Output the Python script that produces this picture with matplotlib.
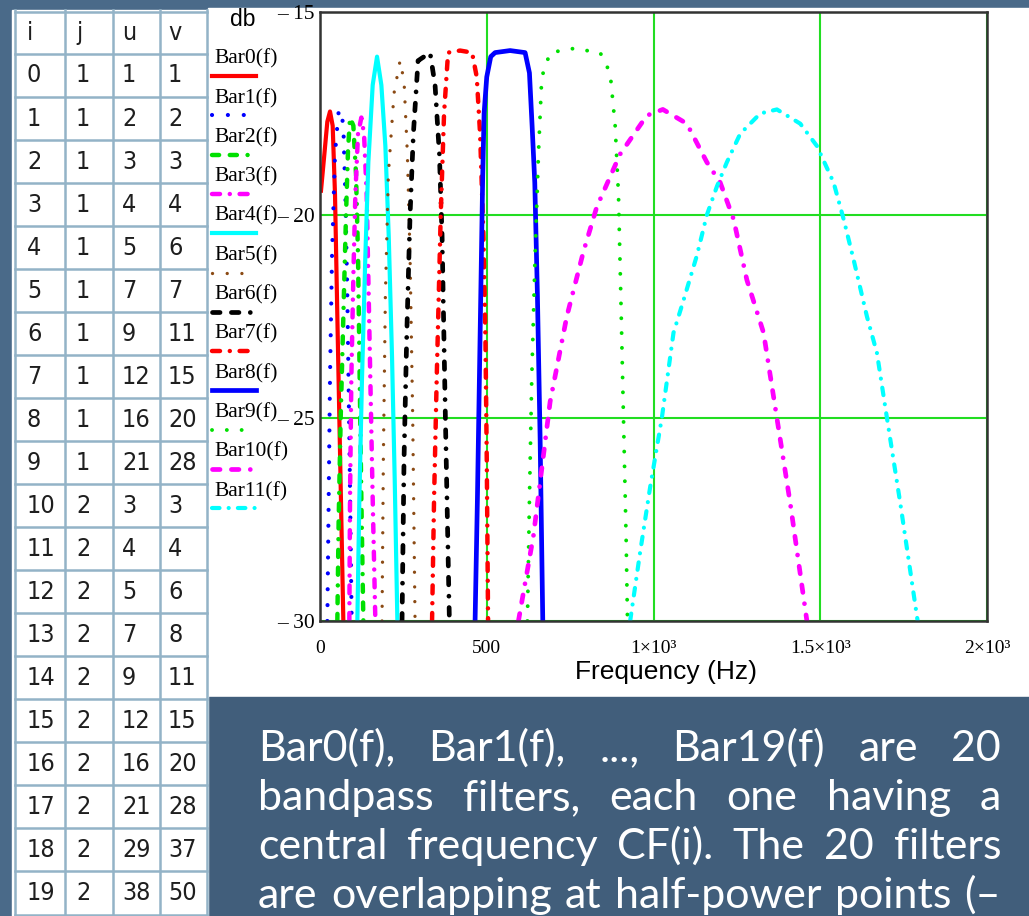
import matplotlib
matplotlib.use('Agg')
import matplotlib.pyplot as plt
from matplotlib import font_manager
from matplotlib.patches import Rectangle

# table on the left
tab_head = ['i', 'j', 'u', 'v']
tab_i = list(range(20))
tab_j = [1] * 10 + [2] * 10
tab_u = [1, 2, 3, 4, 5, 7, 9, 12, 16, 21, 3, 4, 5, 7, 9, 12, 16, 21, 29, 38]
tab_v = [1, 2, 3, 4, 6, 7, 11, 15, 20, 28, 3, 4, 6, 8, 11, 15, 20, 28, 37, 50]

# filter responses (Hz, db)
bar0_f = [3, 12, 22, 30, 38, 45, 52, 58, 64, 70]
bar0_db = [-19.4, -18.6, -17.7, -17.45, -17.8, -19.5, -22.5, -25, -27.5, -30]
bar1_f = [22, 26, 30, 36, 45, 55, 62, 70, 76, 82, 88, 95]
bar1_db = [-30, -27, -24, -21, -18.5, -17.5, -17.4, -17.8, -19.5, -22, -25.5, -30]
bar2_f = [52, 56, 62, 70, 78, 84, 90, 100, 108, 114, 119, 124, 130]
bar2_db = [-30, -27.5, -25, -22.5, -20, -18.4, -17.6, -17.8, -19, -21, -24, -27, -30]
bar3_f = [88, 90, 94, 100, 106, 114, 124, 132, 140, 146, 152, 158, 166]
bar3_db = [-30, -27, -24, -21.5, -19.5, -18, -17.6, -18, -19.5, -22, -24.5, -27, -30]
bar4_f = [112, 118, 126, 136, 145, 158, 171, 184, 196, 206, 216, 224, 232]
bar4_db = [-30, -27, -24, -21, -18.7, -16.8, -16.1, -16.8, -18.3, -20.5, -23.5, -26.5, -30]
bar5_f = [186, 190, 196, 205, 222, 240, 252, 262, 270, 278, 285]
bar5_db = [-30, -26, -22, -19, -17, -16.2, -16.7, -18.5, -21, -25, -30]
bar6_f = [246, 252, 260, 270, 280, 294, 312, 330, 345, 358, 366, 376, 388]
bar6_db = [-30, -26, -23, -20, -18, -16.2, -16.1, -16.0, -16.8, -18.5, -20.5, -25, -30]
bar7_f = [336, 342, 350, 362, 372, 384, 420, 456, 470, 480, 490, 496, 500, 504]
bar7_db = [-30, -27, -24, -20, -17.5, -16, -15.95, -16, -16.6, -18, -20.5, -23, -26, -30]
bar8_f = [465, 472, 478, 484, 488, 492, 500, 512, 525, 570, 615, 628, 636, 644, 652, 660, 668]
bar8_db = [-30, -27, -24, -21, -19, -17.5, -16.6, -16.1, -16, -15.95, -16, -16.5, -17.8, -19.2, -22, -25.5, -30]
bar9_f = [622, 628, 635, 645, 655, 665, 690, 760, 840, 870, 885, 895, 902, 910, 918, 922]
bar9_db = [-30, -27, -24, -21, -18.5, -16.6, -16.0, -15.9, -16, -16.5, -17.8, -19.5, -22, -25, -28, -30]
bar10_f = [595, 640, 690, 740, 790, 830, 900, 980, 1028, 1100, 1160, 1200, 1240, 1280, 1330, 1370, 1410, 1460]
bar10_db = [-30, -27.9, -24.6, -22.5, -20.9, -19.8, -18.5, -17.55, -17.4, -17.75, -18.7, -19.2, -20.1, -21.6,
            -22.9, -25, -27.1, -30]
bar11_f = [930, 960, 990, 1025, 1060, 1090, 1130, 1160, 1190, 1220, 1260, 1320, 1370, 1440, 1490, 1540, 1570,
           1600, 1640, 1670, 1700, 1740, 1792]
bar11_db = [-30, -28.3, -26.7, -25, -22.9, -22.1, -21, -20, -19.3, -18.7, -18, -17.5, -17.4, -17.75, -18.3,
            -19.2, -20.1, -21.1, -22.5, -23.4, -25, -27.1, -30]

curves = [(bar0_f, bar0_db), (bar1_f, bar1_db), (bar2_f, bar2_db), (bar3_f, bar3_db),
          (bar4_f, bar4_db), (bar5_f, bar5_db), (bar6_f, bar6_db), (bar7_f, bar7_db),
          (bar8_f, bar8_db), (bar9_f, bar9_db), (bar10_f, bar10_db), (bar11_f, bar11_db)]
names = ['Bar%d(f)' % k for k in range(12)]

x_ticks = [0, 500, 1000, 1500, 2000]
x_labels = ['0', '500', '1×10³', '1.5×10³', '2×10³']
y_ticks = [-30, -25, -20, -15]
y_labels = ['– 30', '– 25', '– 20', '– 15']

text_lines = ['Bar0(f), Bar1(f), ..., Bar19(f) are 20',
              'bandpass filters, each one having a',
              'central frequency CF(i). The 20 filters',
              'are overlapping at half-power points (–']

# line styles (Mathcad like)
green = '#00e000'
brown = '#8b4a14'
dot = (0.01, 3.8)
dd = (1.6, 2.4, 1.6, 2.4, 0.01, 2.4)
dsd = (1.8, 2.2, 0.01, 2.2)
styles = [('red', 3.0, None), ('blue', 3.0, dot), (green, 3.2, dd), ('magenta', 3.2, dsd),
          ('cyan', 3.0, None), (brown, 2.4, (0.01, 4.4)), ('black', 3.4, dd), ('red', 3.2, dsd),
          ('blue', 3.4, None), (green, 2.8, dot), ('magenta', 3.4, dd), ('cyan', 3.0, dsd)]

fonts = font_manager.fontManager.ttflist
avail = {f.name for f in fonts}
cond = [f for f in fonts if 'condensed' in str(f.stretch) or 'Narrow' in f.name or 'Condensed' in f.name]
if any(f.name == 'Liberation Sans Narrow' for f in cond):
    tab_font = dict(family='Liberation Sans Narrow', fontsize=19)
elif any(f.name == 'DejaVu Sans' for f in cond):
    tab_font = dict(family='DejaVu Sans', fontstretch='condensed', fontsize=18)
else:
    tab_font = dict(family='Liberation Sans', fontsize=16)
serif = 'Liberation Serif'
sans = 'Liberation Sans'
body = 'Lato' if 'Lato' in avail else 'DejaVu Sans'

W, H = 1029, 916
fig = plt.figure(figsize=(W / 100, H / 100), dpi=100)
fig.patch.set_facecolor('#4a6a89')

# pixel-space background layer
bg = fig.add_axes([0, 0, 1, 1], zorder=0)
bg.set_xlim(0, W)
bg.set_ylim(H, 0)
bg.axis('off')

bg.add_patch(Rectangle((208, 8), W - 208, 689, color='white'))
bg.add_patch(Rectangle((208, 697), W - 208, H - 697, color='#415e7b'))

# table
bg.add_patch(Rectangle((12, 10), 196, H - 10, color='white'))
col_x = [15, 65, 113, 160, 207]
row_y = [12, 53.5] + [53.5 + 43.05 * (k + 1) for k in range(20)]
for x in col_x:
    bg.plot([x, x], [10, H], color='#93b3c7', lw=1.8)
for y in row_y:
    bg.plot([15, 207], [y, y], color='#93b3c7', lw=1.8)
text_x = [27, 76, 122, 168]
for c, h in enumerate(tab_head):
    bg.text(text_x[c], 33, h, color='#1e1e1e', ha='left', va='center', **tab_font)
for r in range(20):
    yc = 53.5 + 43.05 * r + 22
    for c, val in enumerate([tab_i[r], tab_j[r], tab_u[r], tab_v[r]]):
        bg.text(text_x[c], yc, str(val), color='#1e1e1e', ha='left', va='center', **tab_font)

# legend and y label (Mathcad style, text above line sample)
bg.text(243, 19, 'db', fontsize=16.5, family=sans, ha='center', va='center')
for k, name in enumerate(names):
    yt = 59 + 39.3 * k
    bg.text(214, yt, name, fontsize=15.5, family=serif, ha='left', va='center')
    col, lw, ds = styles[k]
    ln, = bg.plot([212, 256], [yt + 17, yt + 17], color=col, lw=lw)
    if ds is not None:
        ln.set_dashes(ds)
        ln.set_dash_capstyle('round')

# chart
ax = fig.add_axes([320 / W, 1 - 621 / H, 667 / W, 609 / H], zorder=1)
ax.set_facecolor('white')
for k, (f, db) in enumerate(curves):
    col, lw, ds = styles[k]
    ln, = ax.plot(f, db, color=col, lw=lw)
    if ds is not None:
        ln.set_dashes(ds)
        ln.set_dash_capstyle('round')

ax.set_xlim(0, 2000)
ax.set_ylim(-30, -15)
ax.set_xticks(x_ticks)
ax.set_xticklabels(x_labels, family=serif, fontsize=14)
ax.set_yticks(y_ticks)
ax.set_yticklabels(y_labels, family=serif, fontsize=15.5)
ax.tick_params(length=0, pad=4)
ax.tick_params(axis='x', pad=14)
ax.grid(True, color='#22dd22', lw=1.5)
ax.set_axisbelow(True)
for s in ax.spines.values():
    s.set_color('#333333')
    s.set_linewidth(1.8)
ax.set_xlabel('Frequency (Hz)', family=sans, fontsize=19, labelpad=2, x=(666 - 320) / 667)

# justified body text
fig.canvas.draw()
rend = fig.canvas.get_renderer()
x0, x1 = 258, 1001
baselines = [761, 810, 859, 908]
for line, yb in zip(text_lines, baselines):
    words = line.split()
    ts = [bg.text(0, yb, w, fontsize=31, family=body, color='white',
                  ha='left', va='baseline') for w in words]
    widths = [t.get_window_extent(rend).width for t in ts]
    gap = (x1 - x0 - sum(widths)) / (len(words) - 1)
    x = x0
    for t, w in zip(ts, widths):
        t.set_x(x)
        x += w + gap

fig.savefig('out.png', dpi=100, facecolor=fig.get_facecolor())
